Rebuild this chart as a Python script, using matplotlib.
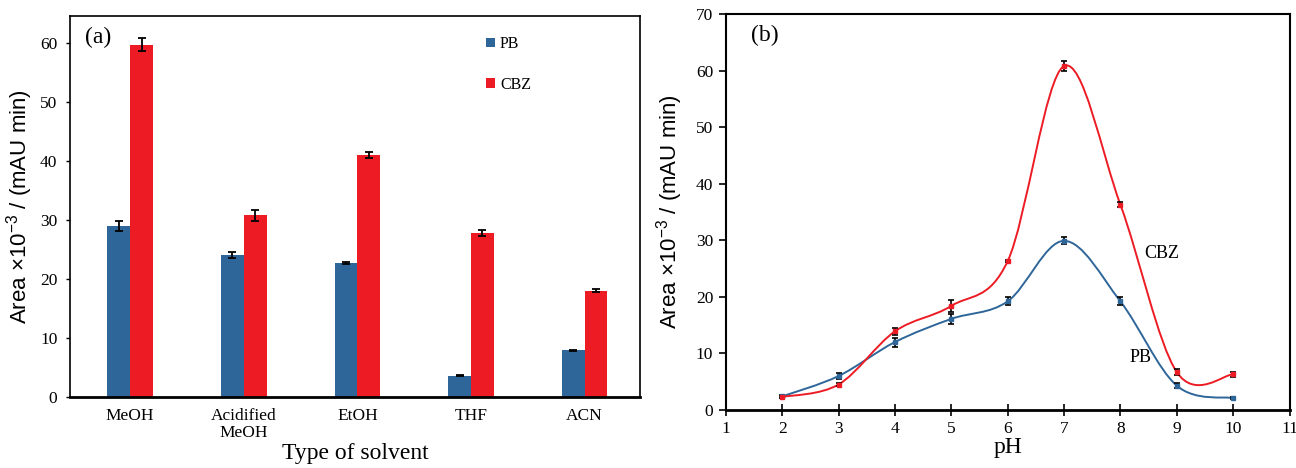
import numpy as np
import matplotlib
matplotlib.use("Agg")
import matplotlib.pyplot as plt
from matplotlib.path import Path
from matplotlib.patches import PathPatch

plt.rcParams['font.family'] = ['Liberation Serif', 'DejaVu Serif']
plt.rcParams['mathtext.fontset'] = 'custom'
plt.rcParams['mathtext.rm'] = 'Liberation Sans'

# (a) solvent data
solvents = ['MeOH', 'Acidified\nMeOH', 'EtOH', 'THF', 'ACN']
pb_solv = [29.0, 24.0, 22.7, 3.6, 7.9]
pb_solv_err = [0.8, 0.5, 0.2, 0.1, 0.1]
cbz_solv = [59.7, 30.8, 41.0, 27.8, 18.0]
cbz_solv_err = [1.1, 0.9, 0.5, 0.5, 0.3]

# (b) pH data
ph = [2, 3, 4, 5, 6, 7, 8, 9, 10]
pb_ph = [2.4, 6.0, 12.0, 16.1, 19.2, 29.9, 19.2, 4.3, 2.1]
pb_ph_err = [0.2, 0.6, 0.8, 0.9, 0.7, 0.6, 0.7, 0.4, 0.2]
cbz_ph = [2.3, 4.5, 13.9, 18.4, 26.3, 60.8, 36.3, 6.7, 6.3]
cbz_ph_err = [0.1, 0.2, 0.6, 1.0, 0.2, 0.9, 0.4, 0.5, 0.4]

blue = '#2E6699'
red = '#ED1C24'
ylab = r'Area $\times$10$^{-3}$ / (mAU min)'


def smooth_path(x, y):
    # excel-like smoothed line: catmull-rom as cubic bezier segments
    x = np.asarray(x, float)
    y = np.asarray(y, float)
    pts = np.column_stack([x, y])
    verts = [pts[0]]
    codes = [Path.MOVETO]
    n = len(pts)
    for i in range(n - 1):
        p0 = pts[i - 1] if i > 0 else pts[i]
        p1 = pts[i]
        p2 = pts[i + 1]
        p3 = pts[i + 2] if i + 2 < n else pts[i + 1]
        c1 = p1 + (p2 - p0) / 6.0
        c2 = p2 - (p3 - p1) / 6.0
        verts += [c1, c2, p2]
        codes += [Path.CURVE4] * 3
    return Path(verts, codes)


fig = plt.figure(figsize=(12.96, 4.68), dpi=100)

# ---- panel (a)
ax1 = fig.add_axes([0.054, 0.152, 0.440, 0.814])
xs = np.arange(len(solvents))
w = 0.2
ax1.bar(xs - w / 2, pb_solv, w, color=blue, label='PB', zorder=2)
ax1.bar(xs + w / 2, cbz_solv, w, color=red, label='CBZ', zorder=2)
ax1.errorbar(xs - w / 2, pb_solv, yerr=pb_solv_err, fmt='none', ecolor='black',
             elinewidth=1.3, capsize=3, capthick=1.3, zorder=3)
ax1.errorbar(xs + w / 2, cbz_solv, yerr=cbz_solv_err, fmt='none', ecolor='black',
             elinewidth=1.3, capsize=3, capthick=1.3, zorder=3)
ax1.set_xlim(-0.53, 4.49)
ax1.set_ylim(0, 64.6)
ax1.set_yticks(range(0, 61, 10))
ax1.set_xticks(xs)
ax1.set_xticklabels(solvents, fontsize=12.5, linespacing=1.05)
ax1.tick_params(axis='x', length=0, pad=8)
ax1.tick_params(axis='y', direction='out', length=3, width=1, labelsize=12.5, pad=6)
for s in ax1.spines.values():
    s.set_linewidth(1.2)
ax1.spines['bottom'].set_linewidth(2)
ax1.set_ylabel(ylab, fontsize=16, family='Liberation Sans', labelpad=4)
ax1.set_xlabel('Type of solvent', fontsize=17, labelpad=2)
ax1.text(-0.40, 61.0, '(a)', fontsize=17, va='center')
ax1.legend(loc='upper left', bbox_to_anchor=(0.705, 0.985), frameon=False,
           fontsize=11.5, handlelength=0.55, handleheight=0.55, handletextpad=0.3,
           labelspacing=1.55)

# ---- panel (b)
ax2 = fig.add_axes([0.560, 0.124, 0.435, 0.846])
for yv, err, col in [(pb_ph, pb_ph_err, blue), (cbz_ph, cbz_ph_err, red)]:
    ax2.add_patch(PathPatch(smooth_path(ph, yv), facecolor='none', edgecolor=col,
                            lw=1.4, zorder=2))
    ax2.errorbar(ph, yv, yerr=err, fmt='s', ms=3.5, mfc=col, mec=col,
                 ecolor='black', elinewidth=1.2, capsize=2.5, capthick=1.2, zorder=3)
ax2.set_xlim(1, 11)
ax2.set_ylim(0, 70)
ax2.set_xticks(range(1, 12))
ax2.set_yticks(range(0, 71, 10))
ax2.tick_params(axis='x', direction='inout', length=8, width=1.2, labelsize=12.5, pad=4)
ax2.tick_params(axis='y', direction='out', length=5, width=1.2, labelsize=12.5, pad=4)
for s in ax2.spines.values():
    s.set_linewidth(1.5)
ax2.spines['bottom'].set_linewidth(2)
ax2.set_ylabel(ylab, fontsize=16, family='Liberation Sans', labelpad=8)
ax2.set_xlabel('pH', fontsize=17, labelpad=0)
ax2.text(1.45, 66.3, '(b)', fontsize=17, va='center')
ax2.text(8.43, 27.7, 'CBZ', fontsize=13, va='center')
ax2.text(8.17, 9.2, 'PB', fontsize=13, va='center')

fig.savefig('out.png', dpi=100)
